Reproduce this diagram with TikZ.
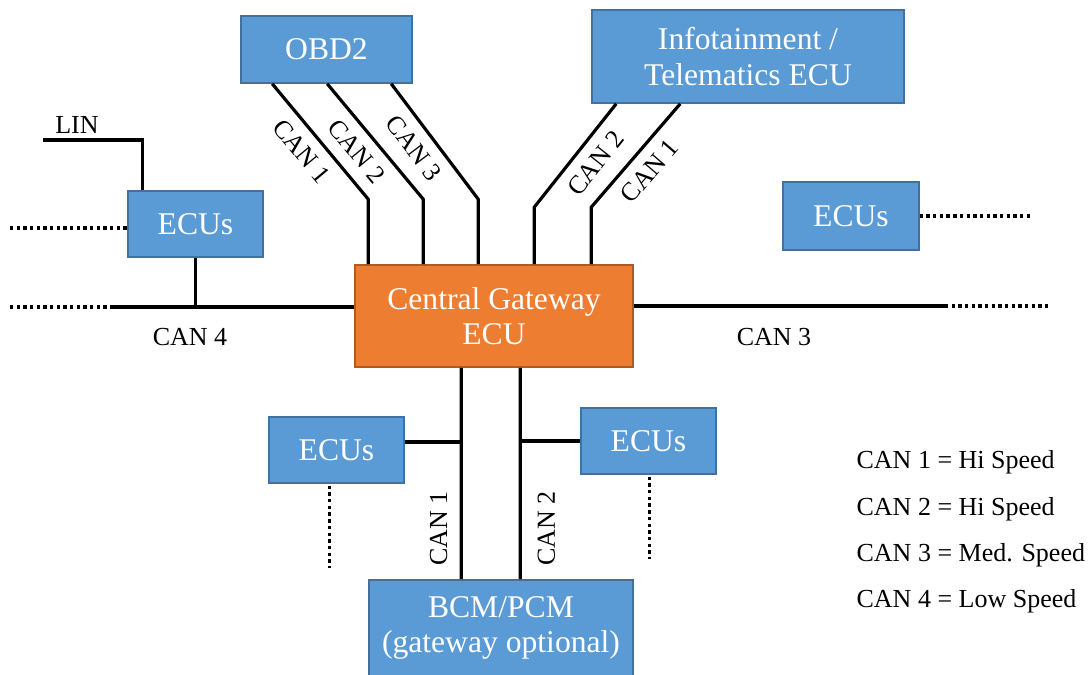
\documentclass[tikz,border=0pt]{standalone}
\usepackage{fontspec}
\setmainfont{Liberation Serif}
\usetikzlibrary{calc}
\usepackage{xcolor}
\definecolor{boxblue}{HTML}{5B9BD5}
\definecolor{boxline}{HTML}{41719C}
\definecolor{gworange}{HTML}{ED7D31}
\definecolor{gwline}{HTML}{AE5A21}

\begin{document}
\begin{tikzpicture}[x=0.02cm, y=-0.02cm,
    ecubox/.style={draw=boxline, line width=0.9pt, fill=boxblue, text=white, inner sep=0pt, align=center, font=\fontsize{18}{20}\selectfont},
    bus/.style={line width=1.8pt},
    dots/.style={line width=1.8pt, dash pattern=on 1.9pt off 1.9pt},
    lbl/.style={font=\fontsize{14.8}{17}\selectfont, inner sep=3pt},
    slbl/.style={lbl, sloped, inner sep=6pt}]
    \useasboundingbox (0,0) rectangle (1089,675);

    % boxes
    \node[ecubox, minimum width=3.42cm, minimum height=1.34cm] (obd) at (326.5,49.5) {OBD2};
    \node[ecubox, minimum width=6.24cm, minimum height=1.86cm] (info) at (748,56.5) {Infotainment /\\Telematics ECU};
    \node[ecubox, fill=gworange, draw=gwline, minimum width=5.56cm, minimum height=2.04cm] (gw) at (494,316) {Central Gateway\\ECU};
    \node[ecubox, minimum width=2.7cm, minimum height=1.32cm] (ecuL) at (195.5,224) {ECUs};
    \node[ecubox, minimum width=2.72cm, minimum height=1.36cm] (ecuR) at (851,216) {ECUs};
    \node[ecubox, minimum width=2.7cm, minimum height=1.32cm] (ecuBL) at (336.5,450) {ECUs};
    \node[ecubox, minimum width=2.7cm, minimum height=1.32cm] (ecuBR) at (648.5,441) {ECUs};
    \node[ecubox, minimum width=5.28cm, minimum height=1.92cm] (bcm) at (501,628) {BCM/PCM\\(gateway optional)};

    % free ends
    \coordinate (lin) at (43,140);
    \coordinate (c4end) at (110,307);
    \coordinate (c4dot) at (10,307);
    \coordinate (lindot) at (10,228);
    \coordinate (c3end) at (945,306);
    \coordinate (c3dot) at (1050,306);
    \coordinate (rdot) at (1030,216);
    \coordinate (c1top) at ($(gw.south west)+(107,0)$);
    \coordinate (c2top) at ($(gw.south west)+(166,0)$);
    \coordinate (bl) at ($(ecuBL.east)+(0,-8)$);
    \coordinate (bldot) at ($(ecuBL.south west)+(61,84)$);
    \coordinate (brdot) at ($(ecuBR.south west)+(69,84)$);

    % OBD2 to gateway
    \draw[bus] ($(obd.south west)+(32,0)$) -- node[slbl, below, pos=0.47] {CAN 1} ($(gw.north west)+(14,-65)$) -- ($(gw.north west)+(14,0)$);
    \draw[bus] ($(obd.south west)+(87,0)$) -- node[slbl, below, pos=0.47] {CAN 2} ($(gw.north west)+(69,-65)$) -- ($(gw.north west)+(69,0)$);
    \draw[bus] ($(obd.south west)+(151,0)$) -- node[slbl, below, pos=0.45] {CAN 3} ($(gw.north west)+(124,-65)$) -- ($(gw.north west)+(124,0)$);

    % gateway to infotainment
    \draw[bus] ($(gw.north west)+(180,0)$) -- ++(0,-57) -- node[slbl, below, pos=0.55] {CAN 2} ($(info.south west)+(25,0)$);
    \draw[bus] ($(gw.north west)+(237,0)$) -- ++(0,-57) -- node[slbl, below, pos=0.48] {CAN 1} ($(info.south west)+(89,0)$);

    % CAN 4 side
    \draw[bus] (c4end) -- (gw.west |- c4end);
    \draw[dots] (c4dot) -- (c4end);
    \draw[bus] (ecuL.south) -- (ecuL.south |- c4end);
    \draw[bus] ($(ecuL.north west)+(15,0)$) |- (lin);
    \draw[dots] (lindot) -- (lindot -| ecuL.west);
    \node[lbl] (linlbl) at (77,125) {LIN};
    \node[lbl] (can4lbl) at (190,337) {CAN 4};

    % CAN 3 side
    \draw[bus] (gw.east |- c3end) -- (c3end);
    \draw[dots] (c3end) -- (c3dot);
    \draw[bus] ($(ecuR.south)+(-15,0)$) -- ($(ecuR.south)+(-15,0)$ |- c3end);
    \draw[dots] (ecuR.east) -- (rdot);
    \node[lbl] (can3lbl) at (774,337) {CAN 3};

    % gateway to BCM/PCM
    \draw[bus] ($(bcm.north west)+(93,0)$) -- node[slbl, above, pos=0.24, inner sep=7pt] {CAN 1} (c1top);
    \draw[bus] ($(bcm.north west)+(152,0)$) -- node[slbl, below, pos=0.24, inner sep=9pt] {CAN 2} (c2top);
    \draw[bus] (bl) -- (bl -| c1top);
    \draw[bus] (ecuBR.west) -- (ecuBR.west -| c2top);
    \draw[dots] ($(ecuBL.south west)+(61,2)$) -- (bldot);
    \draw[dots] ($(ecuBR.south west)+(69,2)$) -- (brdot);

    % legend
    \node[lbl, anchor=west] (leg1) at (851,462) {CAN 1 = Hi Speed};
    \node[lbl, anchor=west] (leg2) at (851,509) {CAN 2 = Hi Speed};
    \node[lbl, anchor=west] (leg3) at (851,555) {CAN 3 = Med. Speed};
    \node[lbl, anchor=west] (leg4) at (851,601) {CAN 4 = Low Speed};
\end{tikzpicture}
\end{document}
